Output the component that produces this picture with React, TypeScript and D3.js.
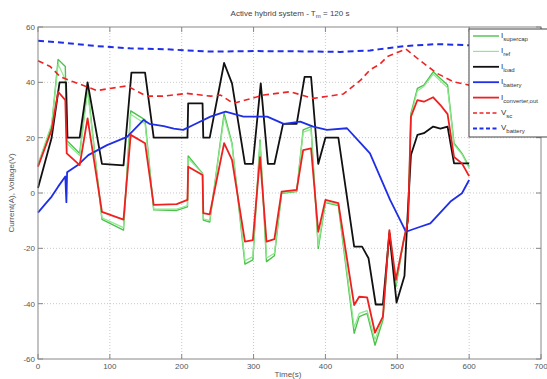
import * as d3 from "d3";
import React from "react";

// time (s) and value pairs
const loadT = [0, 19, 30, 39, 41, 58, 69, 89, 119, 130, 149, 161, 208, 209, 229, 230, 239, 259, 270, 288, 299, 310, 320, 329, 341, 360, 371, 380, 390, 400, 418, 440, 451, 460, 470, 480, 489, 499, 510, 514, 519, 528, 537, 550, 560, 570, 579, 600];
const loadV = [1.8, 20, 40, 40, 20, 20, 40, 10.5, 10, 43.5, 43.5, 20, 20, 32.4, 32.4, 20, 20, 47, 39.6, 10.5, 10.5, 39.6, 10.5, 10.5, 25, 25, 42, 42, 10.5, 20, 20, -19.4, -19.4, -23.6, -40.3, -40.3, -14.6, -39.6, -30, -9.8, 13.7, 21, 21.6, 24, 23.3, 24, 10.7, 10.7];

const curT = [0, 19, 28, 38, 40, 58, 69, 89, 119, 129, 149, 161, 193, 208, 209, 229, 230, 239, 259, 270, 288, 299, 309, 318, 329, 339, 360, 369, 380, 390, 400, 418, 440, 447, 458, 469, 480, 489, 498, 509, 515, 519, 528, 537, 550, 560, 570, 579, 590, 600];
const convV = [9.5, 22.8, 36.6, 33.6, 14.3, 10.1, 27, -6.8, -9.6, 21, 18, -4.3, -4, -2.5, 9.5, 6.5, -7.3, -7.7, 18, 12, -17.6, -17, 13, -17.6, -16.7, 0.5, 1.1, 15.5, 16.1, -14, -2.5, -3.7, -40.5, -37.5, -37.7, -50.5, -44.7, -13.4, -31.4, -17, -10, 27.6, 33.6, 33, 34.6, 31.8, 28.5, 13, 10.7, 6.1];
const supercapV = [10, 24, 48.3, 45.7, 19, 14.3, 38.4, -9.5, -13.4, 29.7, 26.4, -6.1, -6.3, -5, 13.4, 7.1, -9.8, -10.5, 28.8, 18, -25.7, -24.2, 19.2, -24.8, -22.7, -0.1, 0.5, 22.8, 24, -20, -3.5, -4.5, -50.7, -44.7, -43.5, -55, -45.9, -14, -33.9, -17, -10, 28.8, 37.8, 39, 43.8, 41.4, 39, 18, 14.3, 9.5];
const refV = [10.5, 25, 46.5, 41, 18, 13.5, 37, -9, -12.5, 28.5, 25, -5.8, -5.8, -4.5, 12.5, 7, -9.3, -10, 27.5, 17.5, -24.5, -23, 18.5, -23.5, -21.8, 0, 0.8, 22, 23, -19, -3.2, -4.2, -48.5, -43.5, -42.5, -53, -45, -13.8, -33, -16.8, -9.8, 28, 37, 38.5, 43, 40.5, 38, 17.5, 14, 9];

const battT = [0, 10, 19, 28, 38, 39.5, 40.5, 55, 70, 96, 124, 147, 155, 175, 189, 202, 216, 240, 261, 286, 319, 342, 365, 383, 402, 430, 449, 462, 476, 490, 504, 512, 532, 546, 574, 590, 600];
const battV = [-7.1, -4, -1.3, 2.3, 6, -3.3, 7.5, 10, 13.7, 17.3, 20.3, 26.4, 25, 24.2, 23.3, 22.8, 24.6, 27.6, 29.4, 27.6, 27.6, 25, 25.8, 24, 22.8, 23.4, 18, 14.3, 5.9, -2.5, -9.8, -14, -12.2, -11, -3.1, -0.1, 4.7];

const vscT = [0, 17, 31, 49, 68, 82, 100, 124, 151, 175, 207, 240, 254, 272, 314, 351, 383, 425, 449, 462, 476, 486, 512, 532, 555, 578, 600];
const vscV = [47.8, 45.7, 42, 40.2, 38.4, 37, 37.8, 38.7, 35, 35, 36, 35, 35.4, 32.4, 35.4, 36.6, 34.2, 35.8, 40.8, 44.5, 46.6, 49.3, 52, 47.8, 43.3, 40.2, 39];

const vbatT = [0, 35, 82, 128, 175, 240, 300, 360, 420, 462, 476, 509, 555, 600];
const vbatV = [55, 54.3, 53.1, 52.3, 52, 51.1, 51.3, 51.2, 51, 51.5, 52, 53.1, 53.8, 53.4];

const xTicks = [0, 100, 200, 300, 400, 500, 600, 700];
const yTicks = [-60, -40, -20, 0, 20, 40, 60];

const series = [
  { name: "I", sub: "supercap", t: curT, v: supercapV, color: "#4cc24c", dash: "", w: 1.4 },
  { name: "I", sub: "ref", t: curT, v: refV, color: "#8ee88e", dash: "", w: 1.2 },
  { name: "I", sub: "load", t: loadT, v: loadV, color: "#111111", dash: "", w: 1.8 },
  { name: "I", sub: "battery", t: battT, v: battV, color: "#1f2fe6", dash: "", w: 1.8 },
  { name: "I", sub: "converter,out", t: curT, v: convV, color: "#ee2020", dash: "", w: 1.8 },
  { name: "V", sub: "sc", t: vscT, v: vscV, color: "#ee2424", dash: "6,4", w: 1.6 },
  { name: "V", sub: "battery", t: vbatT, v: vbatV, color: "#1f2fe6", dash: "6,4", w: 2 },
];

const W = 547;
const H = 379;
const margin = { left: 38, right: 6, top: 27, bottom: 20 };
const font = "Liberation Sans, Arial, sans-serif";
const textCol = "#555";

export default function App() {
  const x = d3.scaleLinear().domain([0, 700]).range([margin.left, W - margin.right]);
  const y = d3.scaleLinear().domain([-60, 60]).range([H - margin.bottom, margin.top]);
  const line = d3.line<[number, number]>().x(d => x(d[0])).y(d => y(d[1]));

  const x0 = x(0), x1 = x(700), yTop = y(60), yBot = y(-60);
  const legX = 469, legY = 29, rowH = 15.4;

  return (
    <svg width={W} height={H} style={{ position: "absolute", left: 0, top: 0, background: "#fff" }}
      fontFamily={font}>
      {/* grid */}
      {xTicks.slice(1, -1).map(t => (
        <line key={"gx" + t} x1={x(t)} x2={x(t)} y1={yTop} y2={yBot} stroke="#bbb" strokeWidth={0.8} strokeDasharray="1,2" />
      ))}
      {yTicks.slice(1, -1).map(t => (
        <line key={"gy" + t} x1={x0} x2={x1} y1={y(t)} y2={y(t)} stroke="#bbb" strokeWidth={0.8} strokeDasharray="1,2" />
      ))}
      {/* data */}
      {series.map((s, i) => (
        <path key={i} d={line(s.t.map((t, j) => [t, s.v[j]] as [number, number])) || ""}
          fill="none" stroke={s.color} strokeWidth={s.w} strokeDasharray={s.dash || undefined}
          strokeLinejoin="round" />
      ))}
      {/* frame & ticks */}
      <rect x={x0} y={yTop} width={x1 - x0} height={yBot - yTop} fill="none" stroke="#888" strokeWidth={1} />
      {xTicks.map(t => (
        <g key={"xt" + t}>
          <line x1={x(t)} x2={x(t)} y1={yBot} y2={yBot - 5} stroke="#888" />
          <line x1={x(t)} x2={x(t)} y1={yTop} y2={yTop + 5} stroke="#888" />
          <text x={x(t)} y={yBot + 10} fontSize={8} fill={textCol} textAnchor="middle">{t}</text>
        </g>
      ))}
      {yTicks.map(t => (
        <g key={"yt" + t}>
          <line x1={x0} x2={x0 + 5} y1={y(t)} y2={y(t)} stroke="#888" />
          <line x1={x1} x2={x1 - 5} y1={y(t)} y2={y(t)} stroke="#888" />
          <text x={x0 - 3} y={y(t) + 3} fontSize={8} fill={textCol} textAnchor="end">{t}</text>
        </g>
      ))}
      {/* labels */}
      <text x={290} y={16} fontSize={8} fill="#444" textAnchor="middle">
        Active hybrid system - T<tspan fontSize={6} dy={2}>m</tspan><tspan dy={-2}> = 120 s</tspan>
      </text>
      <text x={288} y={377} fontSize={8} fill={textCol} textAnchor="middle">Time(s)</text>
      <text transform={`translate(14,${y(0)}) rotate(-90)`} fontSize={8} fill={textCol} textAnchor="middle">Current(A), Voltage(V)</text>
      {/* legend */}
      <rect x={legX} y={legY} width={W - legX + 2} height={108} fill="#fff" stroke="#444" strokeWidth={1} />
      {series.map((s, i) => {
        const ly = legY + 7 + i * rowH;
        return (
          <g key={"lg" + i}>
            <line x1={legX + 4} x2={legX + 30} y1={ly} y2={ly} stroke={s.color} strokeWidth={s.w}
              strokeDasharray={s.dash ? "4,2.5" : undefined} />
            <text x={legX + 32} y={ly + 2} fontSize={8} fill="#333">
              {s.name}<tspan fontSize={6} dy={3}>{s.sub}</tspan>
            </text>
          </g>
        );
      })}
    </svg>
  );
}
